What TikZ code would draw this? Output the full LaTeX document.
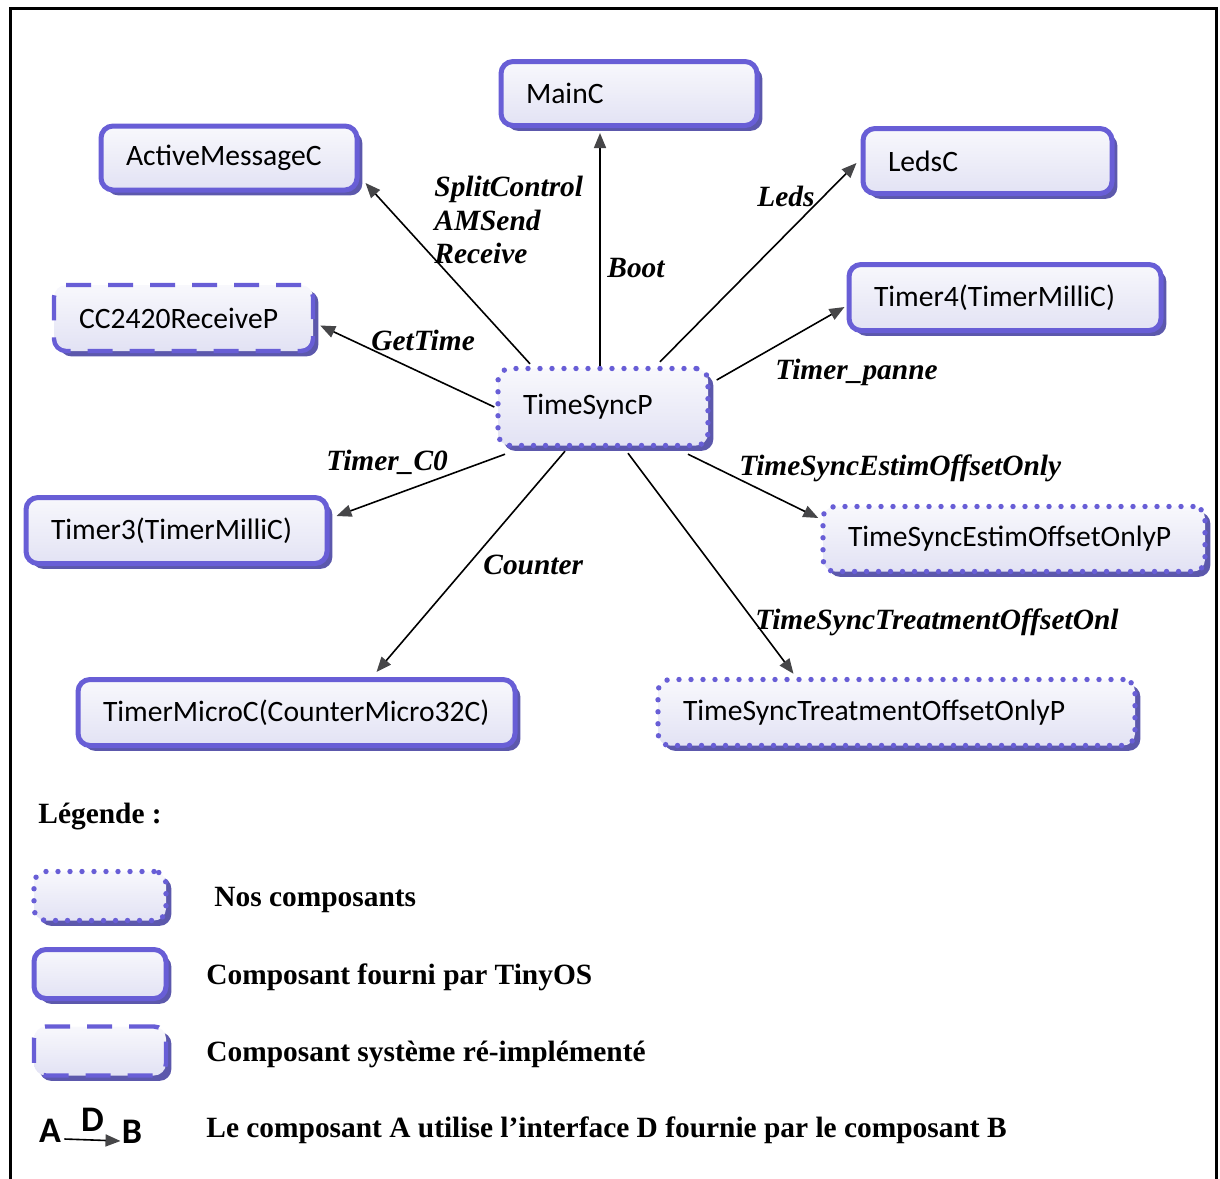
\documentclass[tikz,border=0pt]{standalone}
\usepackage{fontspec}
\setmainfont{Liberation Serif}
\newfontfamily\boxfont{Carlito}
\usetikzlibrary{arrows.meta,shadows,calc}
\definecolor{bordc}{RGB}{104,94,214}
\definecolor{shadc}{RGB}{92,88,172}
\definecolor{filltop}{RGB}{248,248,252}
\definecolor{fillbot}{RGB}{226,226,244}
\definecolor{tipc}{RGB}{70,70,72}
\tikzset{
  comp/.style={rounded corners=6pt, draw=bordc, top color=filltop, bottom color=fillbot,
    drop shadow={shadow xshift=2.7pt, shadow yshift=-2.7pt, fill=shadc, opacity=1},
    inner xsep=12.5pt, inner ysep=0pt, align=left, font=\boxfont\fontsize{14.8}{17}\selectfont},
  solidbox/.style={comp, line width=2.5pt},
  dotbox/.style={comp, line width=2.7pt, dash pattern=on 0pt off 6pt, line cap=round},
  dashbox/.style={comp, line width=2.2pt, dash pattern=on 12.5pt off 8.5pt},
  uses/.style={line width=0.8pt, draw=black, -{Triangle[length=7.5pt,width=6pt,color=tipc]}},
  iface/.style={font=\bfseries\itshape\fontsize{14.7}{16.75}\selectfont, anchor=west, inner sep=0pt, align=left},
  legtext/.style={font=\bfseries\fontsize{14.7}{16}\selectfont, anchor=west, inner sep=0pt},
  letter/.style={font=\boxfont\bfseries\fontsize{18}{20}\selectfont, inner sep=0pt}
}
\begin{document}
\begin{tikzpicture}[x=0.5pt,y=-0.5pt]
\useasboundingbox (0,0) rectangle (1220,1178);
\clip (0,0) rectangle (1220,1178);
\draw[line width=1.5pt] (10,1200) -- (10,8) -- (1216,8) -- (1216,1200);

% components
\node[solidbox, minimum width=128pt, minimum height=32pt, text width=103pt] (mainc) at (629,93.5) {MainC};
\node[solidbox, minimum width=128pt, minimum height=32pt, text width=103pt] (am) at (229,158) {ActiveMessageC};
\node[solidbox, minimum width=124.5pt, minimum height=32.5pt, text width=99.5pt] (leds) at (987.5,161) {LedsC};
\node[solidbox, minimum width=156pt, minimum height=33pt, text width=131pt] (t4) at (1005,297.5) {Timer4(TimerMilliC)};
\node[dashbox, minimum width=129.5pt, minimum height=33pt, text width=104.5pt] (cc) at (183.5,318) {CC2420ReceiveP};
\node[dotbox, minimum width=105pt, minimum height=38.5pt, text width=80pt] (ts) at (603,407) {TimeSyncP};
\node[solidbox, minimum width=150.5pt, minimum height=33pt, text width=125.5pt] (t3) at (176.5,530.5) {Timer3(TimerMilliC)};
\node[dotbox, minimum width=191pt, minimum height=32.5pt, text width=166pt] (es) at (1014,539) {TimeSyncEstimOffsetOnlyP};
\node[solidbox, minimum width=218.5pt, minimum height=33pt, text width=193.5pt] (tm) at (296.5,712.5) {TimerMicroC(CounterMicro32C)};
\node[dotbox, minimum width=238.5pt, minimum height=33pt, text width=213.5pt] (tr) at (896.5,712.5) {TimeSyncTreatmentOffsetOnlyP};

% connectors
\draw[uses] ([xshift=-1.5pt]ts.north) -- ([xshift=-14.5pt,yshift=-2.5pt]mainc.south);
\draw[uses] ([xshift=-36.5pt,yshift=1pt]ts.north) -- ([xshift=3pt,yshift=-12.5pt]am.east);
\draw[uses] ([xshift=28.5pt,yshift=2pt]ts.north) -- ([xshift=-2pt,yshift=-1pt]leds.west);
\draw[uses] ([xshift=3pt,yshift=13.5pt]ts.east) -- ([xshift=-1pt,yshift=-4.75pt]t4.west);
\draw[uses] ([xshift=-0.5pt]ts.west) -- ([xshift=2.5pt,yshift=-3.75pt]cc.east);
\draw[uses] ([xshift=-49pt,yshift=-3pt]ts.south) -- ([xshift=3.5pt,yshift=7.25pt]t3.east);
\draw[uses] ([xshift=-19pt,yshift=-1.5pt]ts.south) -- ([xshift=40pt,yshift=2.5pt]tm.north);
\draw[uses] ([xshift=12.5pt,yshift=-2.5pt]ts.south) -- ([xshift=-51.5pt,yshift=1.5pt]tr.north);
\draw[uses] ([xshift=42.5pt,yshift=-3pt]ts.south) -- ([xshift=-1pt,yshift=10.5pt]es.west);

% interface labels
\node[iface] (l1) at (434,220) {SplitControl\\AMSend\\Receive};
\node[iface] (l2) at (607,268) {Boot};
\node[iface] (l3) at (757,196) {Leds};
\node[iface] (l4) at (371,340) {GetTime};
\node[iface] (l5) at (775,372) {Timer\_panne};
\node[iface] (l6) at (326,462) {Timer\_C0};
\node[iface] (l7) at (739,468) {TimeSyncEstimOffsetOnly};
\node[iface] (l8) at (483,565) {Counter};
\node[iface] (l9) at (755,622) {TimeSyncTreatmentOffsetOnl};

% legend
\node[legtext] (lg) at (38,817) {Légende :};
\node[dotbox, minimum width=66pt, minimum height=24.5pt, inner sep=0pt] (lb1) at (100,896) {};
\node[solidbox, minimum width=66pt, minimum height=24.5pt, inner sep=0pt] (lb2) at (100,974) {};
\node[dashbox, minimum width=66pt, minimum height=24.5pt, inner sep=0pt] (lb3) at (100,1051) {};
\node[legtext] (lt1) at (214,900) {Nos composants};
\node[legtext] (lt2) at (206,977) {Composant fourni par TinyOS};
\node[legtext] (lt3) at (206,1054) {Composant système ré-implémenté};
\node[legtext] (lt4) at (206,1130) {Le composant A utilise l’interface D fournie par le composant B};
\node[letter] (la) at (50,1131) {A};
\node[letter] (lbb) at (132,1132) {B};
\draw[uses] ([xshift=1.5pt,yshift=-4pt]la.east) -- ([xshift=-0.5pt,yshift=-4.5pt]lbb.west) node[midway, above=4pt, letter] {D};
\end{tikzpicture}
\end{document}
